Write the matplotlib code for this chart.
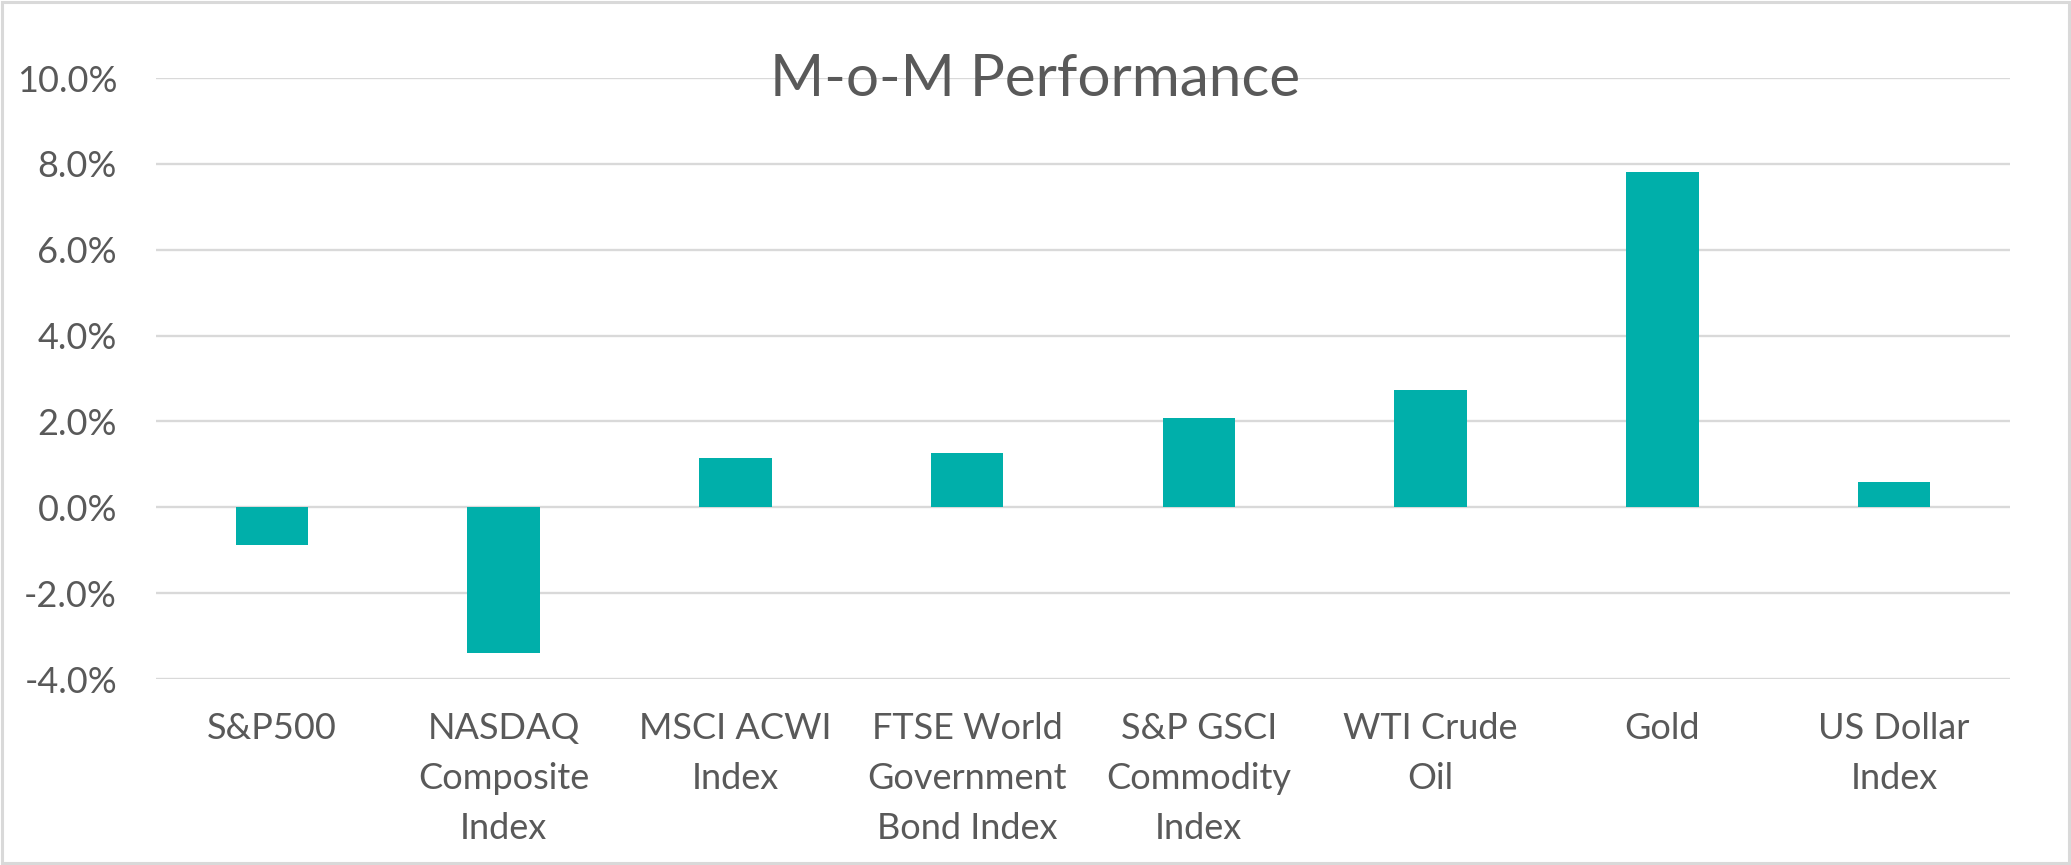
import matplotlib.pyplot as plt
import matplotlib.patches as patches
from matplotlib.ticker import FuncFormatter
import numpy as np

categories = ['S&P500', 'NASDAQ\nComposite\nIndex', 'MSCI ACWI\nIndex',
              'FTSE World\nGovernment\nBond Index', 'S&P GSCI\nCommodity\nIndex',
              'WTI Crude\nOil', 'Gold', 'US Dollar\nIndex']
mom_pct = [-0.88, -3.39, 1.16, 1.26, 2.09, 2.74, 7.82, 0.60]
y_ticks = [-4, -2, 0, 2, 4, 6, 8, 10]

text_color = '#595959'
grid_color = '#D9D9D9'
bar_color = '#00AFAA'

plt.rcParams['font.family'] = ['Lato', 'DejaVu Sans']

fig = plt.figure(figsize=(20.71, 8.65), dpi=100)
ax = fig.add_axes([0.0753, 0.215, 0.8952, 0.6948])

x = np.arange(len(categories))
ax.bar(x, mom_pct, width=0.313, color=bar_color, zorder=3)

ax.set_xlim(-0.5, len(categories) - 0.5)
ax.set_ylim(-4, 10)
ax.set_yticks(y_ticks)
ax.yaxis.set_major_formatter(FuncFormatter(lambda v, p: '%.1f%%' % v))
ax.set_xticks(x)
ax.set_xticklabels(categories, linespacing=1.62)

ax.grid(axis='y', color=grid_color, linewidth=1.7, zorder=0)
for s in ax.spines.values():
    s.set_visible(False)
ax.tick_params(axis='both', length=0, labelsize=26, colors=text_color)
ax.tick_params(axis='y', pad=28)
ax.tick_params(axis='x', pad=24)

fig.text(0.5, 1 - 96 / 865, 'M-o-M Performance', ha='center', va='baseline',
         fontsize=42, color=text_color)

# thin grey frame round the whole picture
fig.patches.append(patches.Rectangle((0.001, 0.002), 0.998, 0.996, transform=fig.transFigure,
                                     fill=False, edgecolor=grid_color, linewidth=2.2))

fig.savefig('out.png', dpi=100)
